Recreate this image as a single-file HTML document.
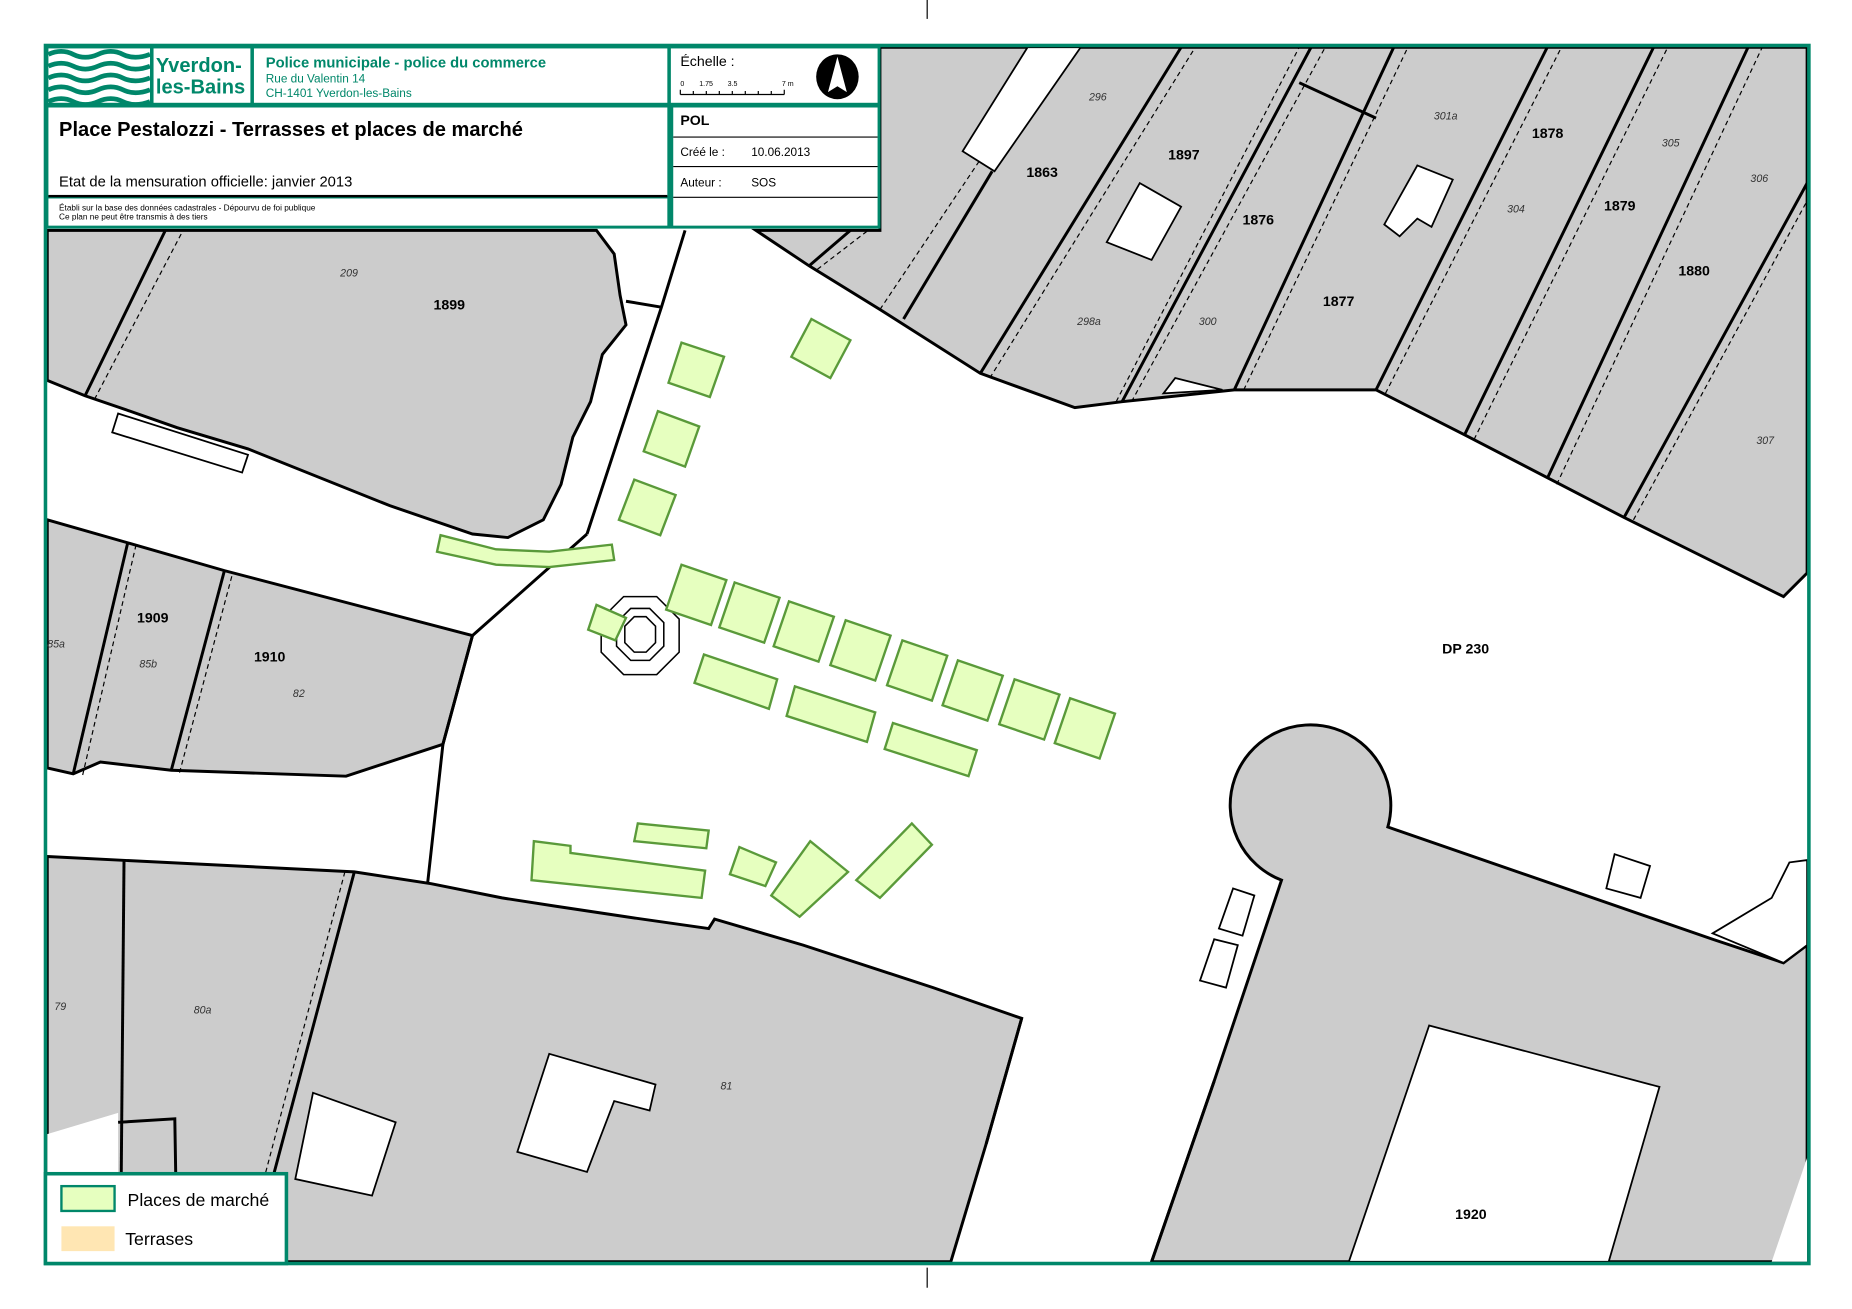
<!DOCTYPE html>
<html><head><meta charset="utf-8"><style>
html,body{margin:0;padding:0;background:#fff}
svg{display:block}
text{font-family:"Liberation Sans",sans-serif}
.n{font-size:12px;font-weight:bold;fill:#000}
.s{font-size:9px;font-style:italic;fill:#333}
.g{fill:#e6ffbf;stroke:#5a9a3a;stroke-width:2}
.b{fill:none;stroke:#000;stroke-width:2.5}
.d{fill:none;stroke:#000;stroke-width:1;stroke-dasharray:4 3}
.w{fill:#fff;stroke:#000;stroke-width:1.5}
</style></head><body>
<svg width="1852" height="1309" viewBox="0 0 1568 1108" preserveAspectRatio="none" xmlns="http://www.w3.org/2000/svg">
<rect width="1568" height="1108" fill="#fff"/>
<line x1="785" y1="0" x2="785" y2="16" stroke="#000"/>
<line x1="785" y1="1073" x2="785" y2="1090" stroke="#000"/>
<!-- gray areas -->
<g fill="#cccccc" stroke="#000" stroke-width="2.5">
<polygon points="40,195 505,195 520,215 525,250 530,275 510,300 500,340 485,370 475,410 460,440 430,455 400,452 330,428 210,380 150,362 110,348 72,335 40,322"/>
<polygon points="40,440 110,460 190,483 400,538 375,630 293,657 145,652 85,645 62,655 40,650"/>
<polygon points="40,725 100,728 300,738 365,748 425,760 470,767 530,776 600,786 605,778 680,800 790,836 865,862 835,968 805,1068 40,1068"/>
<path d="M1028,915 L1085,745 A68,68 0 1 1 1175,700 L1450,795 L1510,815 L1530,800 L1530,1068 L975,1068 Z"/>
<polygon points="640,195 745,195 745,40 1530,40 1530,485 1510,505 1375,438 1240,368 1165,330 1045,330 950,340 910,345 830,316 745,262 685,225"/>
</g>
<!-- white features -->
<g class="w">
<polygon points="40,960 100,942 100,1068 40,1068" stroke="none"/>
<polygon points="265,925 335,950 315,1012 250,998"/>
<polygon points="465,892 555,918 550,940 520,932 497,992 438,975"/>
<polygon points="1210,868 1405,920 1362,1068 1142,1068"/>
<polygon points="1500,1068 1530,980 1530,1068" stroke="none"/>
<polygon points="1367,723 1397,733 1389,760 1360,752"/>
<polygon points="815,128 870,40 915,40 842,145"/>
<polygon points="965,155 1000,175 975,220 937,205"/>
<polygon points="1200,140 1230,152 1212,192 1200,185 1185,200 1172,190"/>
<polygon points="985,333 995,320 1035,330"/>
<polygon points="1450,790 1500,760 1515,730 1530,728 1530,800 1510,815"/>
<polygon points="1044,752 1062,758 1052,792 1032,786"/>
<polygon points="1028,795 1048,800 1038,836 1016,830"/>
<polygon points="100,350 210,385 205,400 95,366"/>
</g>
<!-- road lines -->
<g class="b">
<polyline points="580,195 560,260 497,452"/>
<polyline points="560,260 530,255"/>
<polyline points="497,452 400,538 375,630 362,748"/>
<line x1="865" y1="862" x2="835" y2="968"/>
<line x1="1028" y1="915" x2="975" y2="1068"/>
<line x1="105" y1="728" x2="102" y2="1068"/>
<polyline points="100,950 148,947 150,1068"/>
</g>
<!-- parcel strips -->
<g class="b">
<line x1="72" y1="335" x2="140" y2="195"/>
<line x1="62" y1="655" x2="108" y2="460"/>
<line x1="145" y1="652" x2="190" y2="483"/>
<line x1="300" y1="738" x2="212" y2="1068"/>
<line x1="685" y1="225" x2="720" y2="195"/>
<line x1="765" y1="270" x2="840" y2="145"/>
<line x1="830" y1="316" x2="1000" y2="40"/>
<line x1="950" y1="340" x2="1110" y2="40"/>
<line x1="1045" y1="330" x2="1180" y2="40"/>
<line x1="1165" y1="330" x2="1310" y2="40"/>
<line x1="1240" y1="368" x2="1400" y2="40"/>
<line x1="1310" y1="405" x2="1480" y2="40"/>
<line x1="1375" y1="438" x2="1530" y2="155"/>
<line x1="1100" y1="70" x2="1165" y2="100"/>
</g>
<g class="d">
<line x1="80" y1="338" x2="155" y2="195"/>
<line x1="70" y1="656" x2="115" y2="462"/>
<line x1="152" y1="654" x2="197" y2="485"/>
<line x1="292" y1="738" x2="205" y2="1068"/>
<line x1="692" y1="228" x2="735" y2="195"/>
<line x1="745" y1="262" x2="830" y2="135"/>
<line x1="838" y1="320" x2="1012" y2="40"/>
<line x1="958" y1="340" x2="1122" y2="40"/>
<line x1="1053" y1="330" x2="1192" y2="40"/>
<line x1="1173" y1="333" x2="1322" y2="40"/>
<line x1="1248" y1="372" x2="1412" y2="40"/>
<line x1="1318" y1="410" x2="1492" y2="40"/>
<line x1="1383" y1="440" x2="1530" y2="170"/>
<line x1="945" y1="340" x2="1100" y2="40"/>
</g>
<!-- fountain -->
<g fill="none" stroke="#000" stroke-width="1.3">
<polygon points="528,505 556,505 575,524 575,552 556,571 528,571 509,552 509,524" fill="#fff"/>
<polygon points="534,515 550,515 562,527 562,547 550,559 534,559 522,547 522,527"/>
<polygon points="537,522 547,522 555,530 555,544 547,552 537,552 529,544 529,530"/>
</g>
<!-- market places -->
<g class="g">
<polygon points="577,290 613,302 601,336 566,324"/>
<polygon points="557,348 592,361 580,395 545,382"/>
<polygon points="537,406 572,419 559,453 524,440"/>
<polygon points="687,270 720,288 703,320 670,302"/>
<polygon points="373,453 420,465 465,467 518,461 520,474 465,480 420,478 370,467"/>
<polygon points="505,512 530,523 521,542 498,533"/>
<polygon points="577,478 615,491 602,529 564,516"/>
<polygon points="622,493 660,506 647,544 609,531"/>
<polygon points="668,509 706,522 693,560 655,547"/>
<polygon points="716,525 754,538 741,576 703,563"/>
<polygon points="764,542 802,555 789,593 751,580"/>
<polygon points="811,559 849,572 836,610 798,597"/>
<polygon points="859,575 897,588 884,626 846,613"/>
<polygon points="906,591 944,604 931,642 893,629"/>
<polygon points="596,554 658,575 651,600 588,578"/>
<polygon points="673,581 741,603 734,628 666,606"/>
<polygon points="756,612 827,635 820,657 749,634"/>
<polygon points="452,712 483,716 483,722 597,737 594,760 450,745"/>
<polygon points="540,697 600,703 598,718 537,712"/>
<polygon points="626,717 657,730 648,750 618,740"/>
<polygon points="686,712 718,738 677,776 653,758"/>
<polygon points="772,697 789,715 745,760 725,745"/>
</g>
<!-- labels -->
<text class="n" x="367" y="262">1899</text>
<text class="n" x="116" y="527">1909</text>
<text class="n" x="215" y="560">1910</text>
<text class="n" x="869" y="150">1863</text>
<text class="n" x="989" y="135">1897</text>
<text class="n" x="1052" y="190">1876</text>
<text class="n" x="1120" y="259">1877</text>
<text class="n" x="1297" y="117">1878</text>
<text class="n" x="1358" y="178">1879</text>
<text class="n" x="1421" y="233">1880</text>
<text class="n" x="1221" y="553">DP 230</text>
<text class="n" x="1232" y="1032">1920</text>
<text class="s" x="288" y="234">209</text>
<text class="s" x="40" y="548">85a</text>
<text class="s" x="118" y="565">85b</text>
<text class="s" x="248" y="590">82</text>
<text class="s" x="46" y="855">79</text>
<text class="s" x="164" y="858">80a</text>
<text class="s" x="610" y="922">81</text>
<text class="s" x="922" y="85">296</text>
<text class="s" x="912" y="275">298a</text>
<text class="s" x="1015" y="275">300</text>
<text class="s" x="1214" y="101">301a</text>
<text class="s" x="1276" y="180">304</text>
<text class="s" x="1407" y="124">305</text>
<text class="s" x="1482" y="154">306</text>
<text class="s" x="1487" y="376">307</text>
<!-- frame -->
<rect x="38.5" y="38.5" width="1493" height="1031" fill="none" stroke="#00876a" stroke-width="3"/>
<!-- legend -->
<rect x="38.5" y="993.5" width="204" height="76" fill="#fff" stroke="#00876a" stroke-width="3"/>
<rect x="52" y="1004" width="45" height="21" fill="#e6ffbf" stroke="#00876a" stroke-width="2"/>
<rect x="52" y="1038" width="45" height="21" fill="#ffe6b3"/>
<text x="108" y="1021" font-size="15">Places de marché</text>
<text x="106" y="1054" font-size="15">Terrases</text>
<!-- header -->
<rect x="38.5" y="38.5" width="707" height="155" fill="#00876a"/>
<rect x="41" y="41" width="86" height="46" fill="#fff"/>
<g fill="none" stroke="#00876a" stroke-width="4">
<path d="M41,46 q11,-5 21,0 t21,0 t21,0 t23,0"/>
<path d="M41,56 q11,-5 21,0 t21,0 t21,0 t23,0"/>
<path d="M41,66 q11,-5 21,0 t21,0 t21,0 t23,0"/>
<path d="M41,76 q11,-5 21,0 t21,0 t21,0 t23,0"/>
<path d="M41,86 q11,-5 21,0 t21,0 t21,0 t23,0"/>
</g>
<rect x="130" y="41" width="82" height="46" fill="#fff"/>
<text x="132" y="61" font-size="17" font-weight="bold" fill="#00876a">Yverdon-</text>
<text x="132" y="79" font-size="17" font-weight="bold" fill="#00876a">les-Bains</text>
<rect x="215" y="41" width="350" height="46" fill="#fff"/>
<text x="225" y="57" font-size="12.5" font-weight="bold" fill="#00876a">Police municipale - police du commerce</text>
<text x="225" y="70" font-size="10" fill="#00876a">Rue du Valentin 14</text>
<text x="225" y="82" font-size="10" fill="#00876a">CH-1401 Yverdon-les-Bains</text>
<rect x="568" y="41" width="175" height="46" fill="#fff"/>
<text x="576" y="56" font-size="12">Échelle :</text>
<text x="576" y="73" font-size="6">0</text><text x="592" y="73" font-size="6">1.75</text><text x="616" y="73" font-size="6">3.5</text><text x="662" y="73" font-size="6">7 m</text>
<path d="M576,80 H664 M576,76 V80 M587,77 V80 M598,77 V80 M609,77 V80 M620,77 V80 M631,77 V80 M642,77 V80 M653,77 V80 M664,76 V80" stroke="#000" fill="none"/>
<ellipse cx="709" cy="65" rx="18" ry="19" fill="#000"/>
<polygon points="709,48 701,78 709,73 717,78" fill="#fff"/>
<rect x="41" y="91" width="524" height="75" fill="#fff"/>
<text x="50" y="115" font-size="17" font-weight="bold">Place Pestalozzi - Terrasses et places de marché</text>
<text x="50" y="158" font-size="12.5">Etat de la mensuration officielle: janvier 2013</text>
<rect x="41" y="168" width="524" height="23" fill="#fff"/>
<text x="50" y="178" font-size="7">Établi sur la base des données cadastrales - Dépourvu de foi publique</text>
<text x="50" y="186" font-size="7">Ce plan ne peut être transmis à des tiers</text>
<rect x="570" y="91" width="173" height="100" fill="#fff"/>
<path d="M570,116 H743 M570,141 H743 M570,167 H743" stroke="#000"/>
<rect x="566" y="91" width="3" height="100" fill="#00876a"/>
<rect x="41" y="165" width="524" height="2" fill="#000"/>
<text x="576" y="106" font-size="12" font-weight="bold">POL</text>
<text x="576" y="132" font-size="10">Créé le :</text>
<text x="636" y="132" font-size="10">10.06.2013</text>
<text x="576" y="158" font-size="10">Auteur :</text>
<text x="636" y="158" font-size="10">SOS</text>
</svg>
</body></html>
